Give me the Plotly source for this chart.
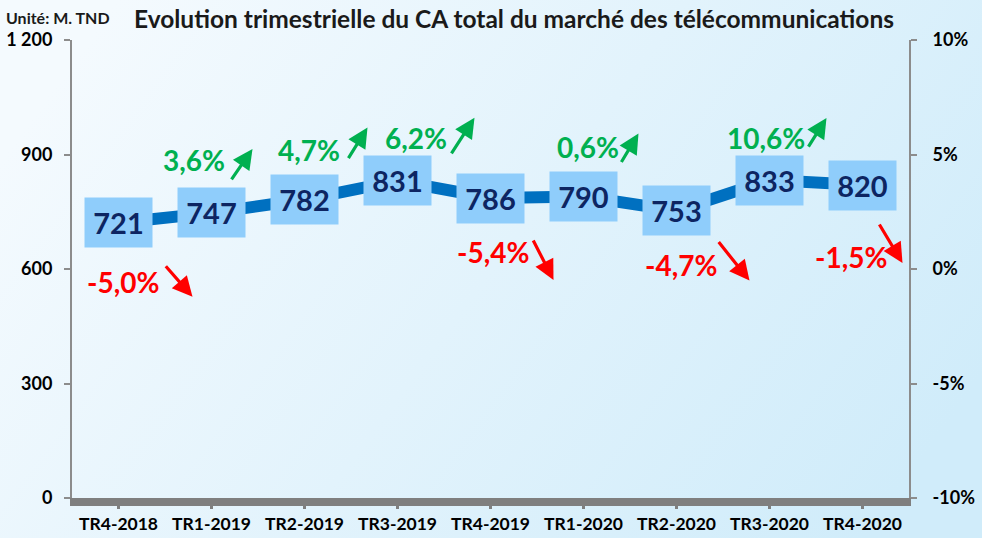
import plotly.graph_objects as go

categories = ["TR4-2018", "TR1-2019", "TR2-2019", "TR3-2019", "TR4-2019",
              "TR1-2020", "TR2-2020", "TR3-2020", "TR4-2020"]
revenue = [721, 747, 782, 831, 786, 790, 753, 833, 820]
growth = [-5.0, 3.6, 4.7, 6.2, -5.4, 0.6, -4.7, 10.6, -1.5]

left_ticks = [0, 300, 600, 900, 1200]
left_ticktext = ["0", "300", "600", "900", "1 200"]
right_ticks = [-0.10, -0.05, 0.0, 0.05, 0.10]
right_ticktext = ["-10%", "-5%", "0%", "5%", "10%"]

# label / arrow placement (pixel offsets from each point)
label_shift = [(4, -59), (-18, 53), (4, 50), (18, 43), (2, -54),
               (4, 49), (4, -54), (-4, 42), (-12, -72)]
arrow_head = [(74, -74), (41, 64), (63, 72), (77, 63), (63, -82),
              (55, 63), (73, -70), (57, 62), (40, -78)]
arrow_tail = [(-28, -32), (-22, 32), (-20, 32), (-24, 37), (-21, -41),
              (-18, 30), (-32, -40), (-19, 30), (-24, -40)]

FONT = "Lato"
GREEN = "#00B050"
RED = "#FF0000"

fig = go.Figure()
fig.add_trace(go.Scatter(
    x=list(range(len(categories))), y=revenue, mode="lines",
    line=dict(color="#0070C0", width=12), hoverinfo="skip", showlegend=False))
fig.add_trace(go.Scatter(
    x=[0], y=[0], yaxis="y2", mode="markers", marker=dict(opacity=0),
    hoverinfo="skip", showlegend=False))

ann = []
for i, v in enumerate(revenue):
    ann.append(dict(x=i, y=v, xref="x", yref="y", text=f"<b>{v}</b>",
                    showarrow=False, bgcolor="#8FCDFB", width=65, height=47,
                    font=dict(family=FONT, size=29, color="#0D2562"),
                    align="center", valign="middle"))
    g = growth[i]
    col = GREEN if g >= 0 else RED
    txt = f"{g:.1f}%".replace(".", ",")
    dx, dy = label_shift[i]
    ann.append(dict(x=i, y=v, xref="x", yref="y", text=f"<b>{txt}</b>",
                    showarrow=False, xshift=dx, yshift=dy,
                    font=dict(family=FONT, size=28, color=col)))
    hx, hy = arrow_head[i]
    tx, ty = arrow_tail[i]
    ann.append(dict(x=i, y=v, xref="x", yref="y", text="",
                    xshift=hx, yshift=hy, showarrow=True,
                    ax=tx, ay=ty, arrowhead=2, arrowsize=1.25, arrowwidth=3.2,
                    arrowcolor=col, standoff=0, startstandoff=0))

fig.update_layout(annotations=ann)

W, H = 982, 538
L, R, T, B = 72, 73, 40, 40
pw, ph = W - L - R, H - T - B

fig.add_annotation(x=(514 - L) / pw, y=1 + (T - 18) / ph, xref="paper", yref="paper",
                   text="<b>Evolution trimestrielle du CA total du marché des télécommunications</b>",
                   showarrow=False, font=dict(family=FONT, size=24.5, color="#1A1A1A"),
                   xanchor="center", yanchor="middle")
fig.add_annotation(x=(4 - L) / pw, y=1 + (T - 17) / ph, xref="paper", yref="paper",
                   text="<b>Unité: M. TND</b>", showarrow=False,
                   font=dict(family=FONT, size=16, color="#1A1A1A"),
                   xanchor="left", yanchor="middle")

svg = ("data:image/svg+xml;utf8,<svg xmlns='http://www.w3.org/2000/svg' width='982' height='538'>"
       "<defs><linearGradient id='g' x1='0' y1='0.3' x2='1' y2='0.7'>"
       "<stop offset='0' stop-color='%23F4FAFE'/><stop offset='1' stop-color='%23D0ECFA'/>"
       "</linearGradient></defs><rect width='982' height='538' fill='url(%23g)'/></svg>")
fig.add_layout_image(dict(source=svg, xref="paper", yref="paper",
                          x=-L / pw, y=1 + T / ph, sizex=W / pw, sizey=H / ph,
                          xanchor="left", yanchor="top", sizing="stretch",
                          layer="below"))

fig.update_layout(
    width=W, height=H,
    margin=dict(l=L, r=R, t=T, b=B, autoexpand=False),
    paper_bgcolor="#E4F3FC", plot_bgcolor="rgba(0,0,0,0)",
    font=dict(family=FONT, color="#000000"),
    xaxis=dict(range=[-0.5, 8.5], tickmode="array", automargin=False,
               tickvals=list(range(len(categories))), ticktext=[f"<b>{c}</b>" for c in categories],
               showgrid=False, zeroline=False, showline=True, linecolor="#7F7F7F",
               linewidth=8, ticks="outside", ticklen=3, tickwidth=3, tickcolor="#7F7F7F",
               tickfont=dict(family=FONT, size=17.5, color="#000"), ticklabelstandoff=0),
    yaxis=dict(range=[0, 1200], tickmode="array", tickvals=left_ticks, automargin=False,
               ticktext=[f"<b>{t}</b>" for t in left_ticktext],
               showgrid=False, zeroline=False, showline=True, linecolor="#8C8C8C",
               linewidth=2, ticks="outside", ticklen=6, tickwidth=1.5, tickcolor="#8C8C8C",
               tickfont=dict(family=FONT, size=18, color="#000"), ticklabelstandoff=8),
    yaxis2=dict(range=[-0.10, 0.10], overlaying="y", side="right", tickmode="array", automargin=False,
                tickvals=right_ticks, ticktext=[f"<b>{t}</b>" for t in right_ticktext],
                showgrid=False, zeroline=False, showline=True, linecolor="#8C8C8C",
                linewidth=2, ticks="outside", ticklen=6, tickwidth=1.5, tickcolor="#8C8C8C",
                tickfont=dict(family=FONT, size=18, color="#000"), ticklabelstandoff=12),
)

fig.write_html("out.html", config={"displayModeBar": False},
               post_script="document.body.style.margin='0';document.body.style.overflow='hidden';")
